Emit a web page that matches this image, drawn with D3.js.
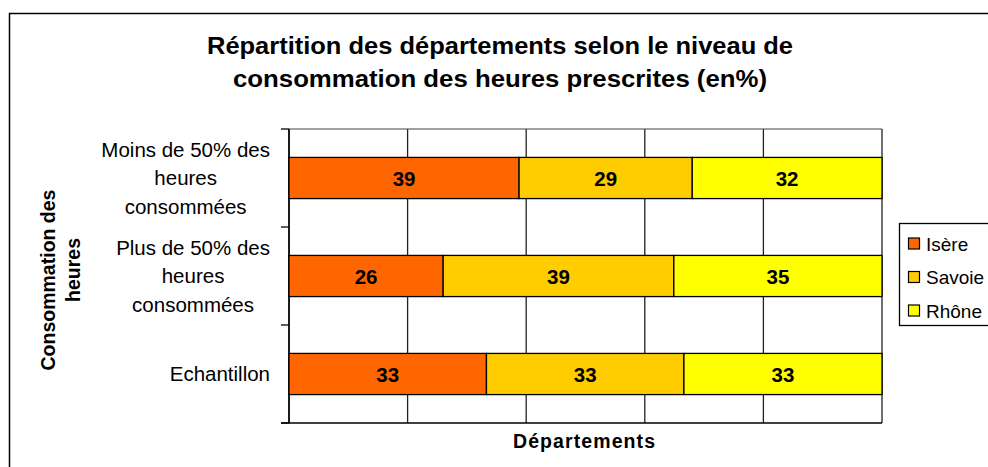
<!DOCTYPE html>
<html>
<head>
<meta charset="utf-8">
<script src="https://cdn.jsdelivr.net/npm/d3@7"></script>
<style>
	body { margin: 0; background: #fff; }
	text { font-family: "Liberation Sans", Arial, sans-serif; }
</style>
</head>
<body>
<svg id="chart"></svg>
<script>
// categories (top to bottom)
const categories = [
	["Moins de 50% des", "heures", "consommées"],
	["Plus de 50% des", "heures", "consommées"],
	["Echantillon"]
];
const series = ["Isère", "Savoie", "Rhône"];
const colors = ["#FF6600", "#FFCC00", "#FFFF00"];
// values per series, one per category
const isere = [38.8, 26.0, 33.3];
const savoie = [29.2, 38.9, 33.3];
const rhone = [32.0, 35.1, 33.4];
const xTicks = [0, 20, 40, 60, 80, 100];

function makeChart() {
	let w = 988;
	let h = 467;

	let marginL = 289;
	let marginR = 106;
	let marginT = 129;
	let marginB = 44;

	let svg = d3.select('#chart')
		.attr('width', w)
		.attr('height', h);

	// outer frame
	svg.append('rect')
		.attr('x', 9.5).attr('y', 13.5)
		.attr('width', w + 20).attr('height', h + 20)
		.attr('fill', 'none')
		.attr('stroke', '#000')
		.attr('stroke-width', 1.5);

	let xScale = d3.scaleLinear()
		.domain([0, 100])
		.range([marginL, w - marginR]);

	let yScale = d3.scaleBand()
		.domain(d3.range(categories.length))
		.range([marginT, h - marginB])
		.paddingInner(0.58)
		.paddingOuter(0.29);

	let step = (h - marginB - marginT) / categories.length;

	// vertical gridlines
	svg.append('g')
		.selectAll('line')
		.data(xTicks)
		.enter()
		.append('line')
		.attr('x1', d => xScale(d)).attr('x2', d => xScale(d))
		.attr('y1', marginT).attr('y2', h - marginB)
		.attr('stroke', '#222')
		.attr('stroke-width', 1.3);

	// top border of plot
	svg.append('line')
		.attr('x1', marginL).attr('x2', w - marginR)
		.attr('y1', marginT).attr('y2', marginT)
		.attr('stroke', '#444')
		.attr('stroke-width', 1.2);

	// y axis ticks between categories
	svg.append('g')
		.selectAll('line')
		.data(d3.range(categories.length + 1))
		.enter()
		.append('line')
		.attr('x1', marginL - 8).attr('x2', marginL)
		.attr('y1', d => marginT + d * step).attr('y2', d => marginT + d * step)
		.attr('stroke', '#000')
		.attr('stroke-width', 1.3);

	svg.append('line')
		.attr('x1', marginL).attr('x2', marginL)
		.attr('y1', marginT).attr('y2', h - marginB)
		.attr('stroke', '#000')
		.attr('stroke-width', 1.5);

	// x axis line
	svg.append('line')
		.attr('x1', marginL - 8).attr('x2', w - marginR)
		.attr('y1', h - marginB).attr('y2', h - marginB)
		.attr('stroke', '#000')
		.attr('stroke-width', 1.5);

	// stacked bars
	let data = categories.map((c, i) => ({ i: i, "Isère": isere[i], "Savoie": savoie[i], "Rhône": rhone[i] }));
	let stack = d3.stack().keys(series)(data);

	let layer = svg.append('g')
		.selectAll('g')
		.data(stack)
		.enter()
		.append('g')
		.attr('fill', (d, i) => colors[i]);

	layer.selectAll('rect')
		.data(d => d)
		.enter()
		.append('rect')
		.attr('x', d => xScale(d[0]))
		.attr('width', d => xScale(d[1]) - xScale(d[0]))
		.attr('y', d => yScale(d.data.i))
		.attr('height', yScale.bandwidth())
		.attr('stroke', '#000')
		.attr('stroke-width', 1.3);

	layer.selectAll('text')
		.data(d => d)
		.enter()
		.append('text')
		.attr('x', d => (xScale(d[0]) + xScale(d[1])) / 2)
		.attr('y', d => yScale(d.data.i) + yScale.bandwidth() / 2 + 7.5)
		.attr('text-anchor', 'middle')
		.attr('font-weight', 'bold')
		.attr('font-size', '20.5px')
		.attr('fill', '#000')
		.text(d => Math.round(d[1] - d[0]));

	// category labels, lines centred, block right-aligned against the axis
	categories.forEach((lines, i) => {
		let cy = yScale(i) + yScale.bandwidth() / 2;
		let t = svg.append('text')
			.attr('font-size', '20.5px')
			.attr('fill', '#000')
			.attr('text-anchor', 'middle');
		lines.forEach((l, j) => {
			t.append('tspan')
				.attr('x', 0)
				.attr('y', cy + 7 + (j - (lines.length - 1) / 2) * 28.5)
				.text(l);
		});
		let bw = t.node().getBBox().width;
		t.selectAll('tspan').attr('x', 270 - bw / 2);
	});

	// title
	svg.append('text')
		.attr('x', 500).attr('y', 54)
		.attr('text-anchor', 'middle')
		.attr('font-weight', 'bold')
		.attr('font-size', '23px')
		.attr('textLength', 586)
		.attr('lengthAdjust', 'spacingAndGlyphs')
		.text('Répartition des départements selon le niveau de');
	svg.append('text')
		.attr('x', 500).attr('y', 87)
		.attr('text-anchor', 'middle')
		.attr('font-weight', 'bold')
		.attr('font-size', '23px')
		.attr('textLength', 534)
		.attr('lengthAdjust', 'spacingAndGlyphs')
		.text('consommation des heures prescrites (en%)');

	// x label
	svg.append('text')
		.attr('x', 584).attr('y', 448)
		.attr('text-anchor', 'middle')
		.attr('font-weight', 'bold')
		.attr('font-size', '19.5px')
		.attr('textLength', 142)
		.attr('lengthAdjust', 'spacing')
		.text('Départements');

	// y label
	svg.append('text')
		.attr('transform', 'translate(55,280) rotate(-90)')
		.attr('text-anchor', 'middle')
		.attr('font-weight', 'bold')
		.attr('font-size', '19.5px')
		.text('Consommation des');
	svg.append('text')
		.attr('transform', 'translate(80,270) rotate(-90)')
		.attr('text-anchor', 'middle')
		.attr('font-weight', 'bold')
		.attr('font-size', '19.5px')
		.text('heures');

	// legend
	let lg = svg.append('g');
	lg.append('rect')
		.attr('x', 899.5).attr('y', 223.5)
		.attr('width', 120).attr('height', 102)
		.attr('fill', '#fff')
		.attr('stroke', '#000')
		.attr('stroke-width', 1.3);
	series.forEach((s, i) => {
		let y = 243.5 + i * 33.5;
		lg.append('rect')
			.attr('x', 908.5).attr('y', y - 5.5)
			.attr('width', 11).attr('height', 11)
			.attr('fill', colors[i])
			.attr('stroke', '#000')
			.attr('stroke-width', 1.2);
		lg.append('text')
			.attr('x', 926).attr('y', y + 7)
			.attr('font-size', '19px')
			.text(s);
	});
}

makeChart();
</script>
</body>
</html>
